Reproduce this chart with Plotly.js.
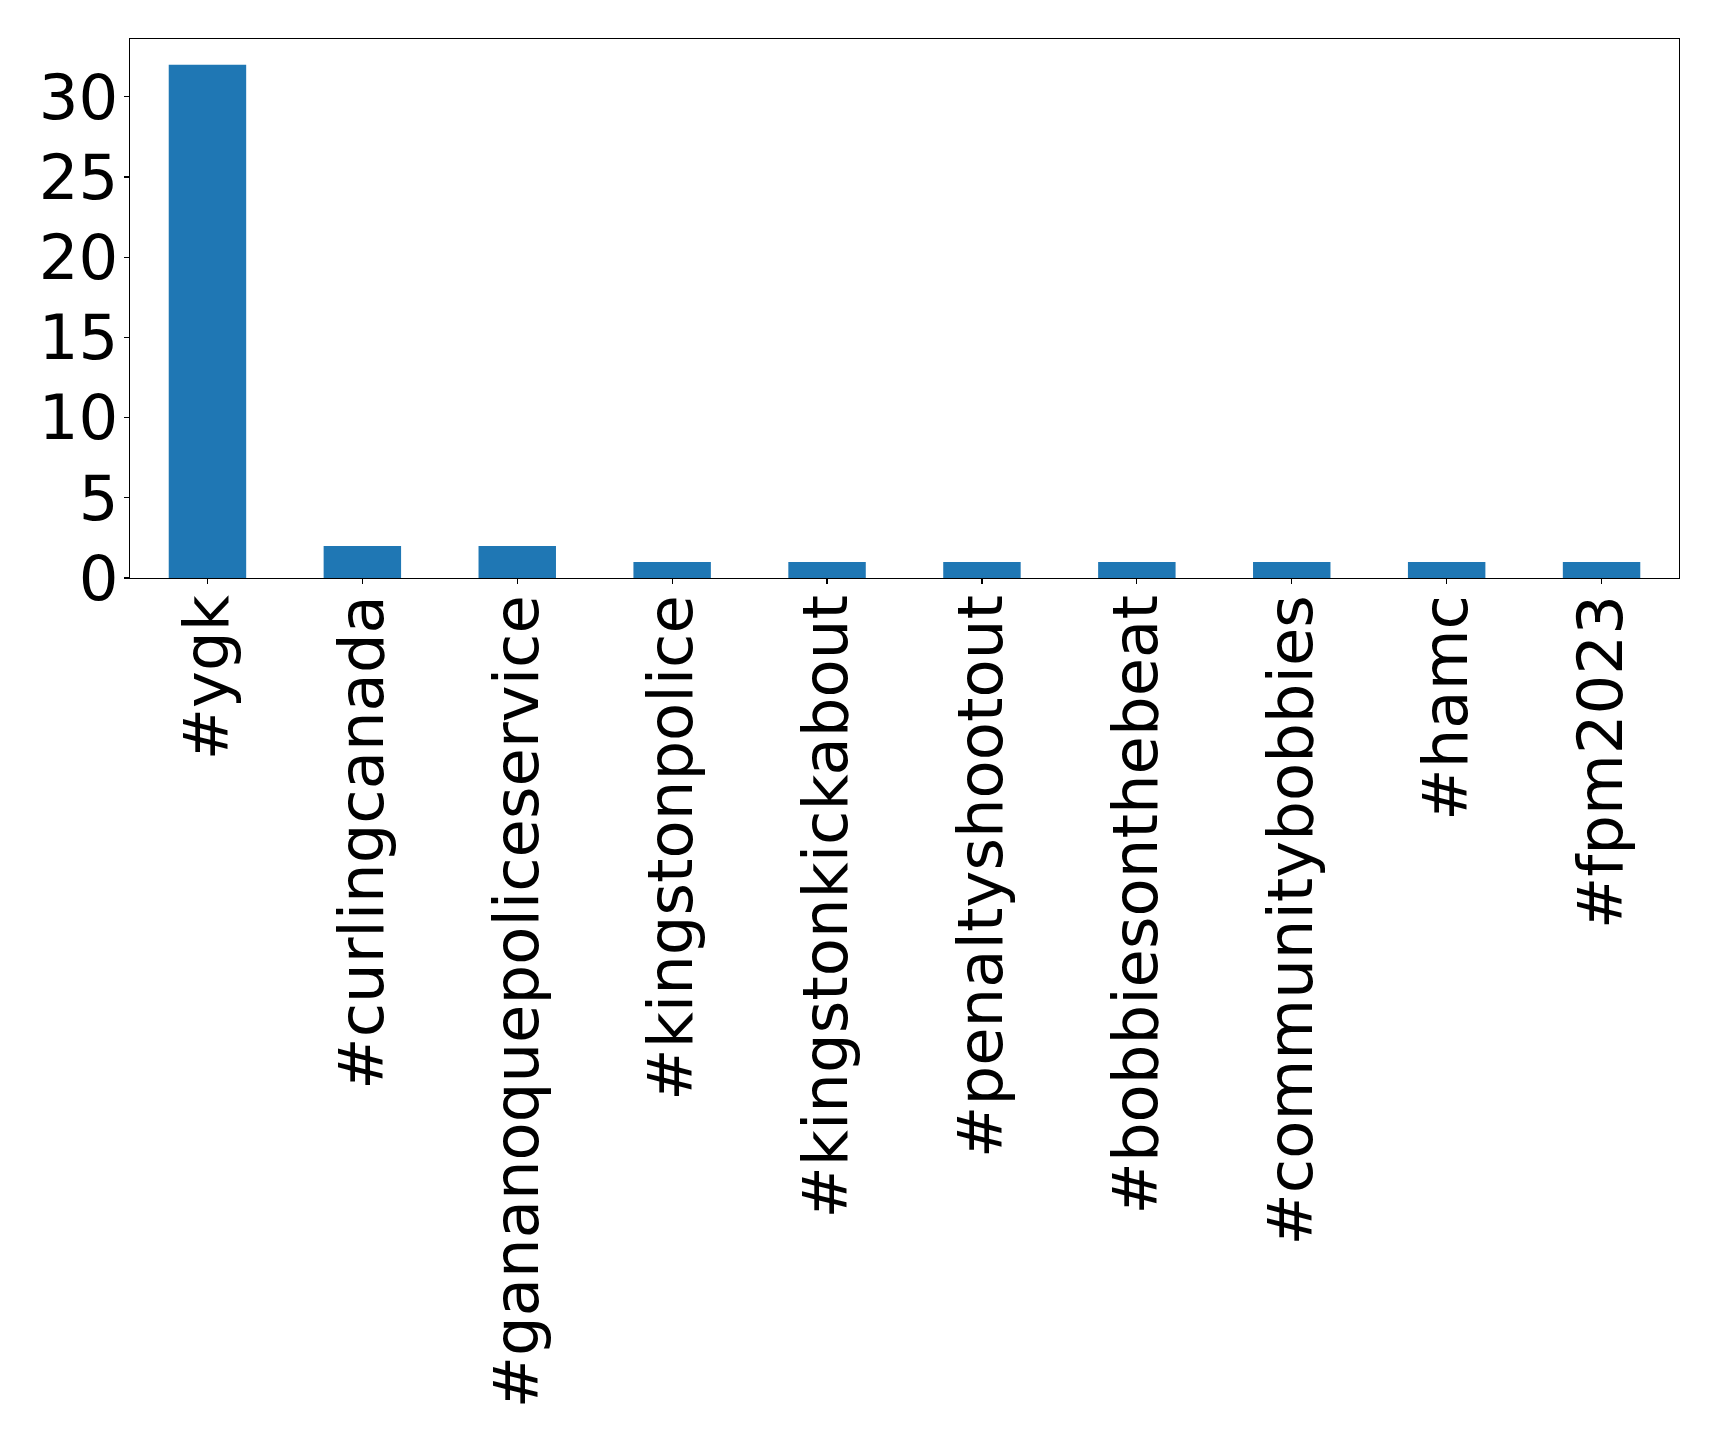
<!DOCTYPE html>
<html>
<head>
<meta charset="utf-8">
<script src="https://cdn.plot.ly/plotly-3.0.1.min.js"></script>
<style>html,body{margin:0;padding:0;background:#fff;}#chart{width:1719px;height:1441px;}</style>
</head>
<body>
<div id="chart"></div>
<script>
const categories = ["#ygk", "#curlingcanada", "#gananoquepoliceservice", "#kingstonpolice", "#kingstonkickabout", "#penaltyshootout", "#bobbiesonthebeat", "#communitybobbies", "#hamc", "#fpm2023"];
const counts = [32, 2, 2, 1, 1, 1, 1, 1, 1, 1];
const yTicks = [0, 5, 10, 15, 20, 25, 30];

const font = {family: "DejaVu Sans", size: 62.5, color: "#000"};
Plotly.newPlot("chart", [{
  type: "bar",
  x: categories.map((c, i) => i),
  y: counts,
  width: 0.5,
  marker: {color: "#1f77b4", line: {width: 0}},
  hoverinfo: "skip"
}], {
  width: 1719, height: 1441,
  margin: {l: 129.5, r: 39.7, t: 39.3, b: 863},
  paper_bgcolor: "#fff", plot_bgcolor: "#fff",
  showlegend: false,
  font: font,
  xaxis: {
    range: [-0.5, 9.5],
    tickmode: "array",
    tickvals: categories.map((c, i) => i),
    ticktext: categories,
    tickangle: -90,
    ticks: "outside", ticklen: 5, tickwidth: 1.1, tickcolor: "#000",
    ticklabelstandoff: -14,
    showline: true, linecolor: "#000", linewidth: 1.1, mirror: true,
    showgrid: false, zeroline: false,
    automargin: false,
    tickfont: font
  },
  yaxis: {
    range: [0, 33.6],
    tickmode: "array",
    tickvals: yTicks,
    ticktext: yTicks.map(String),
    ticks: "outside", ticklen: 5, tickwidth: 1.1, tickcolor: "#000",
    ticklabelstandoff: -7,
    showline: true, linecolor: "#000", linewidth: 1.1, mirror: true,
    showgrid: false, zeroline: false,
    automargin: false,
    tickfont: font
  }
}, {displayModeBar: false, staticPlot: true});
</script>
</body>
</html>
